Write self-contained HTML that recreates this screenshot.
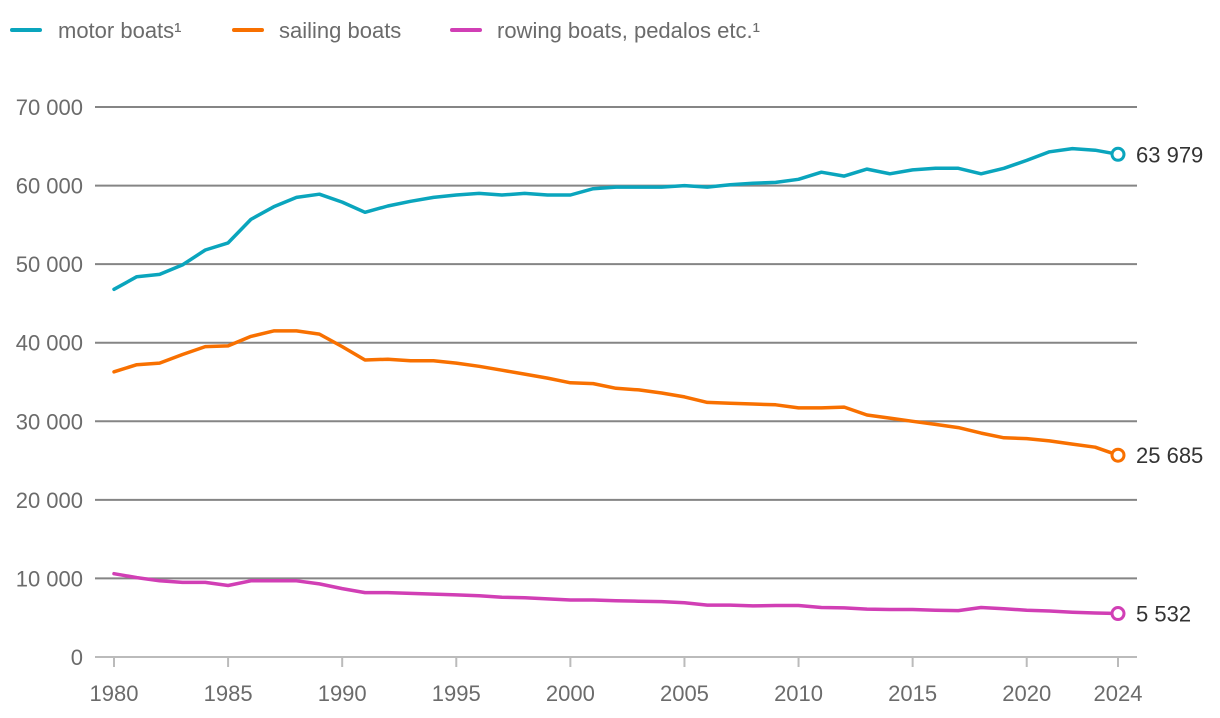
<!DOCTYPE html>
<html><head><meta charset="utf-8">
<style>
html,body{margin:0;padding:0;background:#fff;}
svg{display:block;font-family:"Liberation Sans",sans-serif;}
</style></head>
<body>
<svg id="chart" width="1220" height="718" viewBox="0 0 1220 718" xmlns="http://www.w3.org/2000/svg">
<g id="legend">
 <g><line x1="12" y1="30" x2="40" y2="30" stroke="#0aa5bd" stroke-width="4" stroke-linecap="round"/><text x="58" y="38" font-size="22" fill="#6b6b6b">motor boats¹</text></g>
 <g><line x1="234" y1="30" x2="262" y2="30" stroke="#f87000" stroke-width="4" stroke-linecap="round"/><text x="279" y="38" font-size="22" fill="#6b6b6b">sailing boats</text></g>
 <g><line x1="452" y1="30" x2="480" y2="30" stroke="#d13fb5" stroke-width="4" stroke-linecap="round"/><text x="497" y="38" font-size="22" fill="#6b6b6b">rowing boats, pedalos etc.¹</text></g>
</g>
<g id="grid"></g><g id="xaxis"></g><g id="series"></g>
</svg>
<script>
const years = [];
for (let y = 1980; y <= 2024; y++) years.push(y);
const yTicks = [0,10000,20000,30000,40000,50000,60000,70000];
const yTickLabels = ["0","10 000","20 000","30 000","40 000","50 000","60 000","70 000"];
const xTicks = [1980,1985,1990,1995,2000,2005,2010,2015,2020,2024];
const motorBoats = [46800,48400,48700,49900,51800,52700,55700,57300,58500,58900,57900,56600,57400,58000,58500,58800,59000,58800,59000,58800,58800,59600,59800,59800,59800,60000,59800,60100,60300,60400,60800,61700,61200,62100,61500,62000,62200,62200,61500,62200,63200,64300,64700,64500,63979];
const sailingBoats = [36300,37200,37400,38500,39500,39600,40800,41500,41500,41100,39500,37800,37900,37700,37700,37400,37000,36500,36000,35500,34900,34800,34200,34000,33600,33100,32400,32300,32200,32100,31700,31700,31800,30800,30400,30000,29600,29200,28500,27900,27800,27500,27100,26700,25685];
const rowingBoats = [10600,10100,9700,9500,9500,9100,9700,9700,9700,9300,8700,8200,8200,8100,8000,7900,7800,7600,7550,7400,7250,7250,7150,7100,7050,6900,6600,6600,6500,6550,6550,6300,6250,6100,6050,6050,5950,5900,6300,6150,5950,5850,5700,5600,5532];
const endLabels = ["63 979","25 685","5 532"];

const NS="http://www.w3.org/2000/svg";
const xs = y => 114 + (y-1980)*(1118-114)/44;
const ys = v => 657 - v*550/70000;
function mk(tag, attrs, parent){const e=document.createElementNS(NS,tag);for(const k in attrs)e.setAttribute(k,attrs[k]);parent.appendChild(e);return e;}
const grid=document.getElementById('grid'), xa=document.getElementById('xaxis'), ser=document.getElementById('series');
yTicks.forEach((v,i)=>{
  const l=mk('line',{x1:95,x2:1137,y1:ys(v),y2:ys(v),stroke:i===0?'#bbb':'#858585','stroke-width':2},grid);
  
  
  const t=mk('text',{x:83,y:ys(v)+8,'text-anchor':'end','font-size':22,fill:'#6b6b6b'},grid);
  t.textContent=yTickLabels[i];
  
  
});
xTicks.forEach(y=>{
  const l=mk('line',{x1:xs(y),x2:xs(y),y1:657,y2:667,stroke:'#bbb','stroke-width':2},xa);
  
  
  const t=mk('text',{x:xs(y),y:701,'text-anchor':'middle','font-size':22,fill:'#6b6b6b'},xa);
  t.textContent=String(y);
  
  
});
const seriesList=[[motorBoats,'#0aa5bd','motor-boats'],[sailingBoats,'#f87000','sailing-boats'],[rowingBoats,'#d13fb5','rowing-boats']];
seriesList.forEach(([data,col,name],i)=>{
  const d=data.map((v,j)=>(j?'L':'M')+xs(years[j]).toFixed(1)+','+ys(v).toFixed(1)).join(' ');
  const p=mk('path',{d:d,fill:'none',stroke:col,'stroke-width':3.5,'stroke-linejoin':'round','stroke-linecap':'round'},ser);
  
  
  const last=data.length-1;
  const c=mk('circle',{cx:xs(years[last]),cy:ys(data[last]),r:6,fill:'#fff',stroke:col,'stroke-width':3},ser);
  
  
  const t=mk('text',{x:1136,y:ys(data[last])+8,'font-size':22,fill:'#333'},ser);
  t.textContent=endLabels[i];
  
  
});
</script>
</body></html>
